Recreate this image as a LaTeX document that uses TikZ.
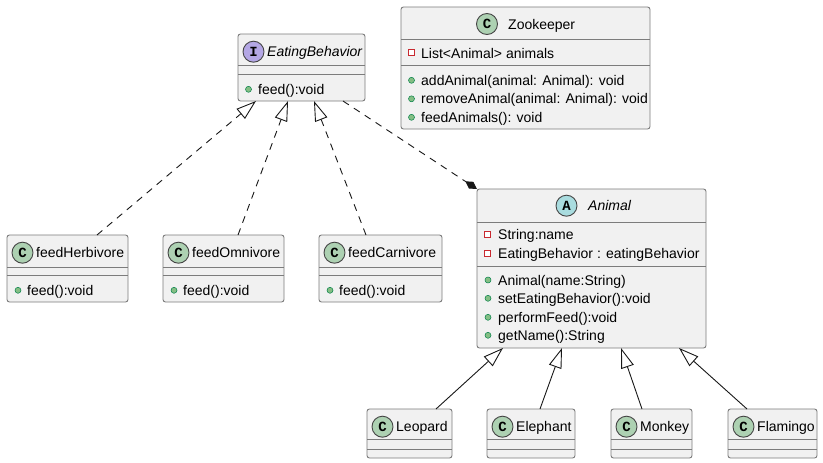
\documentclass[tikz,border=0pt]{standalone}
\usepackage{fontspec}
\setmainfont{Liberation Sans}
\newfontfamily\iconfont{Liberation Mono}
\usetikzlibrary{arrows.meta,calc}
\definecolor{boxfill}{HTML}{F1F1F1}
\definecolor{boxline}{HTML}{181818}
\definecolor{boxborder}{HTML}{7C7C7C}
\definecolor{cgreen}{HTML}{ADD1B2}
\definecolor{acyan}{HTML}{A9DCDF}
\definecolor{ipurple}{HTML}{B4A7E5}
\definecolor{privred}{HTML}{C82930}
\definecolor{pubfill}{HTML}{84BE84}
\definecolor{publine}{HTML}{038048}
\begin{document}
\begin{tikzpicture}[x=1pt,y=-1pt,font=\fontsize{14}{16}\selectfont,
  classbox/.style={draw=boxborder,fill=boxfill,line width=0.9pt,rounded corners=2.5pt,inner sep=0pt,outer sep=0pt,anchor=north west},
  sepline/.style={draw=boxborder,line width=0.9pt},
  icon/.style={circle,draw=boxline!80,line width=0.9pt,minimum size=21pt,inner sep=0pt,font=\iconfont\bfseries\fontsize{14}{14}\selectfont},
  lbl/.style={anchor=base west,inner sep=0pt},
  priv/.style={rectangle,draw=privred,fill=white,line width=0.9pt,minimum size=6pt,inner sep=0pt},
  pub/.style={circle,draw=publine,fill=pubfill,line width=0.5pt,minimum size=6pt,inner sep=0pt},
  real/.style={draw=boxline,line width=0.9pt,dash pattern=on 7pt off 6pt,-{Triangle[open,length=20pt,width=13pt]}},
  ext/.style={draw=boxline,line width=0.9pt,-{Triangle[open,length=20pt,width=13pt]}},
  comp/.style={draw=boxline,line width=0.9pt,dash pattern=on 7pt off 6pt,-{Diamond[length=14pt,width=8pt,fill=boxline]}}
]
\path[fill=white,use as bounding box] (0,0) rectangle (823,463);

% ---------- Zookeeper ----------
\node[classbox,minimum width=249pt,minimum height=122pt] (zk) at (401,7) {};
\draw[sepline] (401,39) -- (650,39);
\draw[sepline] (401,65) -- (650,65);
\node[icon,fill=cgreen] (zkI) at (487,24) {C};
\node[lbl] (zkT) at (508,29) {Zookeeper};
\node[priv] (zkA1i) at (411.5,52.5) {};
\node[lbl] (zkA1) at (421,58) {List<Animal> animals};
\node[pub] (zkM1i) at (411.5,80.3) {};
\node[lbl] (zkM1) at (421,85.3) {addAnimal(animal: Animal): void};
\node[pub] (zkM2i) at (411.5,98.8) {};
\node[lbl] (zkM2) at (421,103.8) {removeAnimal(animal: Animal): void};
\node[pub] (zkM3i) at (411.5,117.3) {};
\node[lbl] (zkM3) at (421,122.3) {feedAnimals(): void};

% ---------- EatingBehavior ----------
\node[classbox,minimum width=127pt,minimum height=67pt] (eb) at (238,34) {};
\draw[sepline] (238,65) -- (365,65);
\draw[sepline] (238,74) -- (365,74);
\node[icon,fill=ipurple] (ebI) at (253.5,51.7) {I};
\node[lbl,font=\fontsize{14}{16}\selectfont\itshape] (ebT) at (267,56.7) {EatingBehavior};
\node[pub] (ebM1i) at (248.5,89.3) {};
\node[lbl] (ebM1) at (258,94.3) {feed():void};

% ---------- feed classes ----------
\node[classbox,minimum width=121pt,minimum height=67pt] (herb) at (7,235) {};
\draw[sepline] (7,267) -- (128,267);
\draw[sepline] (7,275) -- (128,275);
\node[icon,fill=cgreen] (herbI) at (22.5,252.7) {C};
\node[lbl] (herbT) at (36,257.3) {feedHerbivore};
\node[pub] (herbM1i) at (18,290.3) {};
\node[lbl] (herbM1) at (27,295.3) {feed():void};

\node[classbox,minimum width=121pt,minimum height=67pt] (omni) at (163,235) {};
\draw[sepline] (163,267) -- (284,267);
\draw[sepline] (163,275) -- (284,275);
\node[icon,fill=cgreen] (omniI) at (178.5,252.7) {C};
\node[lbl] (omniT) at (192,257.3) {feedOmnivore};
\node[pub] (omniM1i) at (174,290.3) {};
\node[lbl] (omniM1) at (183,295.3) {feed():void};

\node[classbox,minimum width=123pt,minimum height=67pt] (carn) at (319,235) {};
\draw[sepline] (319,267) -- (442,267);
\draw[sepline] (319,275) -- (442,275);
\node[icon,fill=cgreen] (carnI) at (334.5,252.7) {C};
\node[lbl] (carnT) at (348,257.3) {feedCarnivore};
\node[pub] (carnM1i) at (330,290.3) {};
\node[lbl] (carnM1) at (339,295.3) {feed():void};

% ---------- Animal ----------
\node[classbox,minimum width=229pt,minimum height=159pt] (an) at (477,189) {};
\draw[sepline] (477,222) -- (706,222);
\draw[sepline] (477,266) -- (706,266);
\node[icon,fill=acyan] (anI) at (566.5,205.7) {A};
\node[lbl,font=\fontsize{14}{16}\selectfont\itshape] (anT) at (588,210.7) {Animal};
\node[priv] (anA1i) at (487.5,234.5) {};
\node[lbl] (anA1) at (498,239.3) {String:name};
\node[priv] (anA2i) at (487.5,253.5) {};
\node[lbl] (anA2) at (498,258.7) {EatingBehavior : eatingBehavior};
\node[pub] (anM1i) at (488,280) {};
\node[lbl] (anM1) at (498,285) {Animal(name:String)};
\node[pub] (anM2i) at (488,298.3) {};
\node[lbl] (anM2) at (498,303.3) {setEatingBehavior():void};
\node[pub] (anM3i) at (488,317.3) {};
\node[lbl] (anM3) at (498,322.3) {performFeed():void};
\node[pub] (anM4i) at (488,335.3) {};
\node[lbl] (anM4) at (498,340.3) {getName():String};

% ---------- subclasses ----------
\node[classbox,minimum width=85pt,minimum height=49pt] (leo) at (367,409) {};
\draw[sepline] (367,439.3) -- (452,439.3);
\draw[sepline] (367,449.3) -- (452,449.3);
\node[icon,fill=cgreen] (leoI) at (382.5,426.7) {C};
\node[lbl] (leoT) at (396,431.7) {Leopard};

\node[classbox,minimum width=88pt,minimum height=49pt] (ele) at (487,409) {};
\draw[sepline] (487,439.3) -- (575,439.3);
\draw[sepline] (487,449.3) -- (575,449.3);
\node[icon,fill=cgreen] (eleI) at (502.5,426.7) {C};
\node[lbl] (eleT) at (516,431.7) {Elephant};

\node[classbox,minimum width=81pt,minimum height=49pt] (mon) at (611,409) {};
\draw[sepline] (611,439.3) -- (692,439.3);
\draw[sepline] (611,449.3) -- (692,449.3);
\node[icon,fill=cgreen] (monI) at (626.5,426.7) {C};
\node[lbl] (monT) at (640,431.7) {Monkey};

\node[classbox,minimum width=89pt,minimum height=49pt] (fla) at (728,409) {};
\draw[sepline] (728,439.3) -- (817,439.3);
\draw[sepline] (728,449.3) -- (817,449.3);
\node[icon,fill=cgreen] (flaI) at (743.5,426.7) {C};
\node[lbl] (flaT) at (757,431.7) {Flamingo};

% ---------- connectors ----------
\draw[real] ([xshift=90pt]herb.north west) -- ([xshift=18pt]eb.south west);
\draw[real] ([xshift=75pt]omni.north west) -- ([xshift=50pt]eb.south west);
\draw[real] ([xshift=47pt]carn.north west) -- ([xshift=76pt]eb.south west);
\draw[comp] ([xshift=105pt]eb.south west) -- (an.north west);

\draw[ext] ([xshift=69pt]leo.north west) -- ([xshift=26pt]an.south west);
\draw[ext] ([xshift=53pt]ele.north west) -- ([xshift=85pt]an.south west);
\draw[ext] ([xshift=31pt]mon.north west) -- ([xshift=144pt]an.south west);
\draw[ext] ([xshift=19pt]fla.north west) -- ([xshift=202pt]an.south west);
\end{tikzpicture}
\end{document}
